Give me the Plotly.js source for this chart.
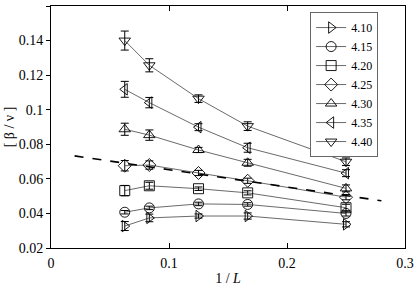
<!DOCTYPE html>
<html>
<head>
<meta charset="utf-8">
<script src="https://cdn.plot.ly/plotly-3.0.1.min.js"></script>
<style>html,body{margin:0;padding:0;background:#fff;}#chart{width:415px;height:286px;}</style>
</head>
<body>
<div id="chart"></div>
<script>
// 1/L values (L = 16, 12, 8, 6, 4)
const invL = [0.0625, 0.08333, 0.125, 0.16667, 0.25];
const seriesNames = ["4.10", "4.15", "4.20", "4.25", "4.30", "4.35", "4.40"];
const symbols = ["triangle-right-open", "circle-open", "square-open", "diamond-open", "triangle-up-open", "triangle-left-open", "triangle-down-open"];

const beta_4_10 = [0.0327, 0.0374, 0.0385, 0.0385, 0.0337];
const beta_4_15 = [0.0407, 0.0432, 0.0455, 0.0452, 0.0400];
const beta_4_20 = [0.0532, 0.0560, 0.0543, 0.0519, 0.0433];
const beta_4_25 = [0.0676, 0.0680, 0.0634, 0.0589, 0.0494];
const beta_4_30 = [0.0887, 0.0853, 0.0767, 0.0693, 0.0545];
const beta_4_35 = [0.1118, 0.1041, 0.0899, 0.0780, 0.0633];
const beta_4_40 = [0.1400, 0.1257, 0.1064, 0.0905, 0.0699];

const err_4_10 = [0.0026, 0.0022, 0.0012, 0.0018, 0.0015];
const err_4_15 = [0.0010, 0.0010, 0.0010, 0.0010, 0.0015];
const err_4_20 = [0.0030, 0.0020, 0.0010, 0.0012, 0.0020];
const err_4_25 = [0.0030, 0.0024, 0.0015, 0.0015, 0.0015];
const err_4_30 = [0.0035, 0.0030, 0.0015, 0.0020, 0.0020];
const err_4_35 = [0.0046, 0.0030, 0.0020, 0.0026, 0.0020];
const err_4_40 = [0.0055, 0.0038, 0.0022, 0.0025, 0.0022];

// dashed reference line
const fitX = [0.02, 0.28];
const fitY = [0.0733, 0.0473];

const allY = [beta_4_10, beta_4_15, beta_4_20, beta_4_25, beta_4_30, beta_4_35, beta_4_40];
const allE = [err_4_10, err_4_15, err_4_20, err_4_25, err_4_30, err_4_35, err_4_40];

const FONT = "'Liberation Serif', 'Times New Roman', Times, serif";

const traces = seriesNames.map((name, i) => ({
  x: invL, y: allY[i], name: name, type: "scatter", mode: "lines+markers",
  line: {color: "#444", width: 0.8},
  marker: {symbol: symbols[i], size: 10, color: "#000", line: {color: "#000", width: 0.9}},
  error_y: {type: "data", array: allE[i], visible: true, color: "#000", thickness: 1, width: 4}
}));
traces.push({
  x: fitX, y: fitY, type: "scatter", mode: "lines", showlegend: false,
  line: {color: "#000", width: 1.6, dash: "dash"}
});

const layout = {
  width: 415, height: 286,
  margin: {l: 51, r: 10, t: 6, b: 38},
  paper_bgcolor: "#fff", plot_bgcolor: "#fff",
  font: {family: FONT, size: 14, color: "#000"},
  showlegend: true,
  legend: {x: 0.732, y: 0.975, xanchor: "left", yanchor: "top",
           bordercolor: "#666", borderwidth: 1, bgcolor: "#fff",
           font: {family: FONT, size: 12}, tracegroupgap: 0},
  xaxis: {range: [0, 0.3], tickvals: [0, 0.1, 0.2, 0.3], ticktext: ["0", "0.1", "0.2", "0.3"],
          showgrid: false, zeroline: false, showline: true, linecolor: "#000", linewidth: 1,
          mirror: "ticks", ticks: "inside", ticklen: 5, tickcolor: "#000",
          ticklabelstandoff: 2,
          tickfont: {family: FONT, size: 14},
          title: {text: "1 / <i>L</i>", font: {family: FONT, size: 14}, standoff: 6}},
  yaxis: {range: [0.02, 0.16], tickvals: [0.02, 0.04, 0.06, 0.08, 0.1, 0.12, 0.14, 0.16],
          ticktext: ["0.02", "0.04", "0.06", "0.08", "0.1", "0.12", "0.14", "0.16"],
          showgrid: false, zeroline: false, showline: true, linecolor: "#000", linewidth: 1,
          mirror: true, ticks: "outside", ticklen: 4, tickcolor: "#000",
          tickfont: {family: FONT, size: 14},
          title: {text: "[ β / ν ]", font: {family: FONT, size: 14}, standoff: 0}},
  yaxis2: {overlaying: "y", side: "right", range: [0.02, 0.16],
           tickvals: [0.02, 0.04, 0.06, 0.08, 0.1, 0.12, 0.14, 0.16],
           showticklabels: false, showgrid: false, zeroline: false, showline: false,
           ticks: "inside", ticklen: 5, tickcolor: "#000"}
};

Plotly.newPlot("chart", traces, layout, {staticPlot: true, displayModeBar: false});
</script>
</body>
</html>
